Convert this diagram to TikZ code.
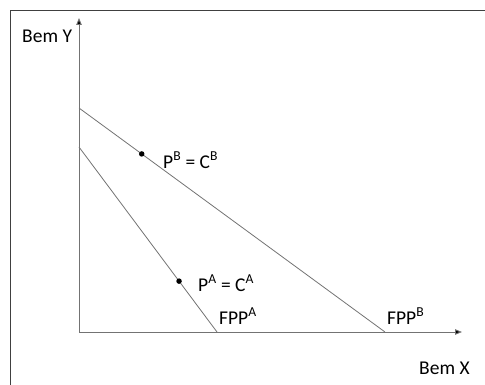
\documentclass[tikz,border=0pt]{standalone}
\usepackage{fontspec}
\setmainfont{Carlito}
\usetikzlibrary{arrows.meta,calc}
\begin{document}
\begin{tikzpicture}[x=1pt,y=-1pt,
  lbl/.style={font=\fontsize{19.5}{22}\selectfont, inner sep=0pt, anchor=west},
  curve/.style={draw=black!55, line width=0.8pt},
  axis/.style={draw=black!55, line width=0.9pt, -{Triangle[length=7pt,width=5.5pt,fill=black]}},
  frame/.style={draw=black!75, line width=1.4pt},
  pt/.style={circle, fill=black, inner sep=0pt, minimum size=5.5pt}]
\useasboundingbox (0,0) rectangle (485,385);
\coordinate (fl) at (10.5,400);
\coordinate (ft) at (10.5,10.5);
\coordinate (fr) at (500,10.5);
\draw[frame] (fl) -- (ft) -- (fr);
\coordinate (O) at (79,332);
\coordinate (Ytop) at (79,18);
\coordinate (Xend) at (462,332);
\draw[axis] (O) -- (Ytop);
\draw[axis] (O) -- (Xend);
\coordinate (B1) at (79,108);
\coordinate (B2) at (385,332);
\coordinate (A1) at (79,147);
\coordinate (A2) at (217,332);
\draw[curve] (B1) -- (B2);
\draw[curve] (A1) -- (A2);
\node[pt] (pb) at ($(B1)!0.205!(B2)$) {};
\node[pt] (pa) at ($(A1)!0.725!(A2)$) {};
\node[lbl] (lpb) at (163,160) {P\textsuperscript{B} = C\textsuperscript{B}};
\node[lbl] (lpa) at (198,283) {P\textsuperscript{A} = C\textsuperscript{A}};
\node[lbl] (lfa) at (219,316) {FPP\textsuperscript{A}};
\node[lbl] (lfb) at (387,316) {FPP\textsuperscript{B}};
\node[lbl] (ly) at (22,36) {Bem Y};
\node[lbl] (lx) at (419,368) {Bem X};
\end{tikzpicture}
\end{document}
